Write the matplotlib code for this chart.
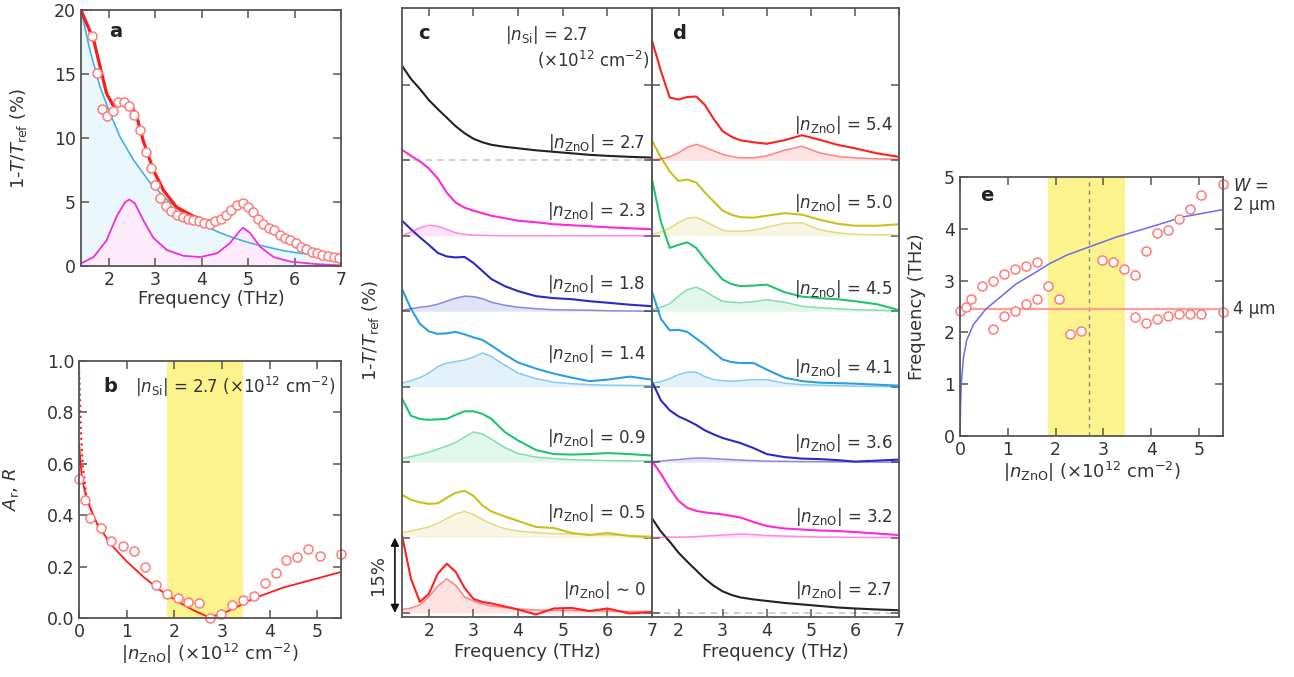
import matplotlib.pyplot as plt

plt.rcParams['font.family'] = ['DejaVu Sans']
plt.rcParams['mathtext.fontset'] = 'dejavusans'
plt.rcParams['font.size'] = 12
plt.rcParams['text.color'] = '#333333'
plt.rcParams['axes.edgecolor'] = '#555555'
plt.rcParams['axes.linewidth'] = 1.3
plt.rcParams['xtick.color'] = '#555555'
plt.rcParams['ytick.color'] = '#555555'
plt.rcParams['xtick.labelcolor'] = '#333333'
plt.rcParams['ytick.labelcolor'] = '#333333'
plt.rcParams['axes.labelcolor'] = '#333333'

# ---------------- panel a data ----------------
a_freq = [1.63, 1.75, 1.85, 1.97, 2.1, 2.2, 2.33, 2.44, 2.55, 2.67, 2.79, 2.9, 3.0, 3.1,
          3.23, 3.34, 3.46, 3.59, 3.7, 3.82, 3.94, 4.05, 4.17, 4.29, 4.41, 4.53, 4.64,
          4.76, 4.88, 4.99, 5.1, 5.22, 5.33, 5.45, 5.56, 5.68, 5.8, 5.91, 6.03, 6.14,
          6.25, 6.37, 6.48, 6.6, 6.72, 6.84, 6.95]
a_pct = [18.0, 15.1, 12.3, 11.7, 12.1, 12.8, 12.8, 12.5, 11.8, 10.6, 8.9, 7.7, 6.3, 5.3,
         4.7, 4.3, 4.0, 3.8, 3.7, 3.6, 3.5, 3.4, 3.3, 3.5, 3.7, 4.0, 4.4,
         4.8, 4.9, 4.6, 4.2, 3.7, 3.3, 3.0, 2.8, 2.4, 2.2, 2.0, 1.8, 1.5,
         1.3, 1.1, 1.0, 0.9, 0.8, 0.7, 0.6]
a_fit_freq = [1.4, 1.67, 1.81, 1.95, 2.1, 2.28, 2.46, 2.6, 2.74, 2.96, 3.18, 3.46, 3.82,
              4.11, 4.4, 4.69, 4.9, 5.12, 5.4, 5.76, 6.12, 6.48, 7.0]
a_fit_pct = [20.0, 17.7, 15.6, 13.5, 12.5, 13.0, 12.7, 11.7, 9.8, 7.5, 5.9, 4.6, 3.9,
             3.5, 3.7, 4.5, 4.8, 4.2, 3.1, 2.2, 1.5, 1.1, 0.8]
a_drude_freq = [1.4, 1.59, 1.81, 2.03, 2.24, 2.53, 2.89, 3.25, 3.61, 3.97, 4.33, 4.69,
                5.04, 5.4, 5.76, 6.12, 6.48, 7.0]
a_drude_pct = [20.0, 16.9, 14.0, 11.9, 10.1, 8.3, 6.5, 5.2, 4.1, 3.3, 2.7, 2.2,
               1.8, 1.5, 1.2, 1.0, 0.9, 0.8]
a_peak_freq = [1.4, 1.67, 1.95, 2.17, 2.35, 2.44, 2.56, 2.74, 2.96, 3.25, 3.61, 3.97,
               4.33, 4.61, 4.83, 4.89, 5.04, 5.26, 5.55, 5.91, 6.48, 7.0]
a_peak_pct = [0.2, 0.7, 2.0, 3.9, 5.0, 5.2, 4.9, 3.6, 2.2, 1.25, 0.8, 0.7,
              1.0, 1.8, 2.8, 3.0, 2.6, 1.5, 0.7, 0.35, 0.15, 0.05]

# ---------------- panel b data ----------------
b_n = [0.0, 0.12, 0.23, 0.46, 0.68, 0.92, 1.15, 1.38, 1.61, 1.84, 2.07, 2.29, 2.52,
       2.75, 2.98, 3.21, 3.45, 3.67, 3.9, 4.13, 4.35, 4.58, 4.81, 5.05, 5.5]
b_ar = [0.54, 0.46, 0.39, 0.35, 0.30, 0.28, 0.26, 0.20, 0.13, 0.095, 0.078, 0.062, 0.058,
        0.0, 0.014, 0.05, 0.071, 0.084, 0.138, 0.175, 0.225, 0.238, 0.268, 0.243, 0.248]
b_fit_n = [0.0, 0.056, 0.16, 0.37, 0.65, 1.0, 1.35, 1.7, 2.05, 2.4, 2.71, 2.96, 3.24,
           3.65, 4.28, 4.98, 5.5]
b_fit_r = [0.68, 0.55, 0.46, 0.37, 0.29, 0.22, 0.16, 0.108, 0.066, 0.03, 0.004, 0.013,
           0.036, 0.075, 0.118, 0.153, 0.179]
b_dot_n = [0.0, 0.02, 0.04, 0.08, 0.15, 0.27, 0.44]
b_dot_r = [0.98, 0.85, 0.72, 0.59, 0.48, 0.41, 0.34]
band_lo, band_hi = 1.84, 3.45
n_si = 2.7

# ---------------- panels c / d data (percent, on a common frequency grid) ----------------
cd_freq = [1.4, 1.6, 1.8, 2.0, 2.2, 2.4, 2.6, 2.8, 3.0, 3.2, 3.4, 3.7, 4.0, 4.4, 4.8,
           5.2, 5.6, 6.0, 6.5, 7.0]

c_meas_00 = [15.4, 6.8, 2.2, 3.8, 7.8, 9.8, 8.2, 5.0, 2.8, 2.2, 1.9, 1.3, 0.7, -0.3, 0.9,
             1.0, 0.4, 0.9, -0.1, 0.2]
c_peak_00 = [0.7, 1.0, 1.6, 3.2, 5.3, 6.8, 5.5, 3.2, 2.4, 1.8, 1.4, 1.1, 0.8, 0.6, 0.5,
             0.5, 0.4, 0.4, 0.3, 0.3]
c_meas_05 = [8.5, 7.5, 7.0, 6.7, 6.8, 7.9, 8.9, 9.3, 8.3, 6.4, 5.2, 4.2, 3.3, 2.1, 1.9,
             0.9, 0.5, 0.9, 0.3, 0.0]
c_peak_05 = [1.0, 1.3, 1.7, 2.1, 2.8, 3.8, 4.7, 5.2, 4.6, 3.6, 2.7, 1.8, 1.3, 1.0, 0.8,
             0.7, 0.6, 0.5, 0.4, 0.3]
c_meas_09 = [12.6, 9.2, 8.6, 8.4, 8.5, 8.6, 9.4, 10.1, 10.1, 9.6, 8.6, 6.0, 4.3, 2.4, 1.6,
             1.5, 1.6, 1.8, 1.6, 1.3]
c_peak_09 = [0.7, 1.1, 1.5, 2.0, 2.6, 3.2, 3.9, 5.0, 6.0, 5.6, 4.6, 2.9, 1.7, 1.0, 0.7,
             0.5, 0.4, 0.3, 0.25, 0.2]
c_meas_14 = [19.4, 15.5, 12.5, 11.0, 10.5, 10.6, 10.9, 10.4, 9.8, 9.3, 8.2, 6.4, 4.8, 3.6,
             2.6, 1.8, 1.1, 1.4, 2.0, 1.4]
c_peak_14 = [0.7, 1.2, 1.8, 2.7, 4.0, 4.7, 5.0, 5.3, 5.9, 6.7, 6.0, 4.3, 2.7, 1.6, 0.9,
             0.6, 0.4, 0.3, 0.25, 0.2]
c_meas_18 = [18.0, 16.3, 14.7, 13.2, 11.6, 10.9, 10.7, 10.8, 9.6, 8.0, 6.4, 5.0, 4.0, 3.0,
             2.6, 2.4, 2.0, 1.7, 1.3, 1.0]
c_peak_18 = [0.2, 0.5, 0.8, 1.0, 1.4, 2.0, 2.6, 3.0, 2.9, 2.5, 1.8, 1.2, 0.8, 0.5, 0.3,
             0.25, 0.2, 0.1, 0.05, 0.0]
c_meas_23 = [17.1, 15.9, 14.8, 13.4, 11.4, 8.6, 6.6, 5.6, 5.0, 4.5, 4.0, 3.5, 3.0, 2.7,
             2.3, 2.1, 1.9, 1.7, 1.5, 1.3]
c_peak_23 = [0.0, 0.8, 1.6, 2.1, 1.9, 1.3, 0.6, 0.3, 0.15, 0.1, 0.05, 0.0, 0.0, 0.0, 0.0,
             0.0, 0.0, 0.0, 0.0, 0.0]
meas_27 = [18.8, 16.2, 14.2, 12.0, 10.2, 8.5, 6.8, 5.4, 4.3, 3.6, 3.1, 2.7, 2.4, 2.0, 1.7,
           1.4, 1.1, 0.9, 0.7, 0.55]

d_meas_32 = [15.2, 12.7, 9.8, 7.3, 5.9, 5.3, 5.0, 4.8, 4.6, 4.3, 4.0, 3.1, 2.3, 1.8, 1.6,
             1.4, 1.3, 1.1, 0.8, 0.5]
d_peak_32 = [0.0, 0.05, 0.1, 0.1, 0.1, 0.2, 0.3, 0.4, 0.5, 0.6, 0.7, 0.6, 0.4, 0.3, 0.2,
             0.1, 0.1, 0.05, 0.0, 0.0]
d_meas_36 = [16.0, 12.3, 10.3, 9.1, 8.3, 7.4, 6.3, 5.5, 4.8, 4.3, 3.8, 2.8, 1.6, 1.0, 0.7,
             0.6, 0.4, 0.1, 0.3, 0.5]
d_peak_36 = [0.1, 0.2, 0.4, 0.5, 0.7, 0.8, 0.8, 0.7, 0.6, 0.5, 0.4, 0.3, 0.2, 0.15, 0.1,
             0.1, 0.05, 0.05, 0.0, 0.0]
d_meas_41 = [18.9, 13.5, 11.2, 11.3, 10.9, 9.6, 8.3, 6.8, 5.4, 4.9, 4.7, 4.7, 3.4, 1.8,
             1.1, 0.8, 0.7, 0.6, 0.4, 0.2]
d_peak_41 = [0.7, 1.0, 1.6, 2.4, 2.9, 2.9, 2.0, 1.4, 1.2, 1.1, 1.2, 1.4, 1.4, 0.7, 0.4,
             0.3, 0.2, 0.1, 0.05, 0.0]
d_meas_45 = [26.2, 17.8, 12.6, 13.2, 13.7, 12.6, 10.3, 8.3, 6.3, 5.4, 5.0, 5.1, 5.3, 3.8,
             2.9, 2.6, 2.4, 2.0, 1.4, 0.2]
d_peak_45 = [0.3, 0.8, 1.5, 3.0, 4.3, 4.8, 4.0, 2.9, 2.0, 1.8, 1.7, 1.9, 2.3, 1.8, 1.0,
             0.7, 0.5, 0.3, 0.2, 0.1]
d_meas_50 = [18.9, 15.6, 12.8, 10.9, 11.2, 10.6, 8.6, 6.8, 5.0, 4.2, 3.7, 3.6, 4.0, 4.5,
             4.2, 3.2, 2.4, 2.0, 2.0, 2.3]
d_peak_50 = [0.3, 0.8, 1.5, 2.6, 3.5, 3.7, 2.9, 2.0, 1.1, 0.9, 0.9, 1.1, 1.7, 2.5, 2.6,
             1.2, 0.6, 0.3, 0.2, 0.1]
d_meas_54 = [23.8, 17.8, 12.5, 12.1, 12.6, 12.7, 11.0, 8.2, 5.8, 4.7, 4.0, 3.6, 3.3, 4.0,
             5.0, 4.1, 3.1, 2.4, 1.4, 0.7]
d_peak_54 = [0.1, 0.3, 0.7, 1.5, 2.6, 3.2, 2.6, 1.9, 1.2, 0.8, 0.5, 0.5, 0.9, 2.0, 2.8,
             1.5, 0.8, 0.5, 0.3, 0.2]

c_labels = ['\u223c 0', '= 0.5', '= 0.9', '= 1.4', '= 1.8', '= 2.3', '= 2.7']
d_labels = ['= 2.7', '= 3.2', '= 3.6', '= 4.1', '= 4.5', '= 5.0', '= 5.4']

# ---------------- panel e data ----------------
e_n_up = [0.0, 0.12, 0.23, 0.47, 0.7, 0.93, 1.16, 1.38, 1.61, 1.84, 2.07, 2.3, 2.53,
          2.98, 3.21, 3.44, 3.67, 3.9, 4.13, 4.36, 4.59, 4.82, 5.05, 5.5]
e_f_up = [2.41, 2.49, 2.64, 2.89, 3.0, 3.12, 3.23, 3.29, 3.35, 2.89, 2.64, 1.96, 2.03,
          3.39, 3.35, 3.23, 3.11, 3.57, 3.92, 3.97, 4.18, 4.39, 4.65, 4.86]
e_n_lo = [0.7, 0.93, 1.16, 1.38, 1.61, 3.67, 3.9, 4.13, 4.36, 4.59, 4.82, 5.05, 5.5]
e_f_lo = [2.07, 2.31, 2.41, 2.54, 2.64, 2.30, 2.18, 2.25, 2.31, 2.36, 2.36, 2.36, 2.39]
e_2um_n = [0.0, 0.01, 0.025, 0.07, 0.14, 0.28, 0.54, 0.84, 1.18, 1.53, 1.88, 2.23,
           2.7, 3.27, 3.97, 4.67, 5.5]
e_2um_f = [0.0, 0.55, 1.0, 1.5, 1.85, 2.15, 2.45, 2.68, 2.94, 3.13, 3.33, 3.49,
           3.65, 3.84, 4.03, 4.23, 4.37]
e_4um_f = 2.45

# ---------------- styles ----------------
RED = '#ff1a1a'
CIRC = '#ff7b7b'
YELLOW = '#fcf38c'
colors = {'red': '#ff2020', 'olive': '#c9c020', 'green': '#22c46e', 'lblue': '#2d9fe0',
          'blue': '#2a2ac8', 'mag': '#ff2ad6', 'black': '#222222'}
STEP = 15
LAB = 13

fig = plt.figure(figsize=(12.94, 6.77), dpi=100)
ax_a = fig.add_axes([0.0626, 0.607, 0.2009, 0.378])
ax_b = fig.add_axes([0.0611, 0.0872, 0.2025, 0.3796])
ax_c = fig.add_axes([0.3107, 0.0886, 0.1932, 0.8996])
ax_d = fig.add_axes([0.5039, 0.0886, 0.1909, 0.8996])
ax_e = fig.add_axes([0.7419, 0.356, 0.2032, 0.3826])

for ax in (ax_a, ax_b, ax_c, ax_d, ax_e):
    ax.tick_params(direction='in', top=True, right=True, length=6, width=1.1, labelsize=12.5)

znolab = r'|$n_{\rm ZnO}$| (×10$^{12}$ cm$^{-2}$)'

# ---- a
ax_a.fill_between(a_drude_freq, a_drude_pct, 0, color='#eaf8fd', lw=0)
ax_a.fill_between(a_peak_freq, a_peak_pct, 0, color='#fdebfb', lw=0)
ax_a.plot(a_drude_freq, a_drude_pct, color='#3fb3e6', lw=1.2)
ax_a.plot(a_peak_freq, a_peak_pct, color='#f02ee0', lw=1.3)
ax_a.plot(a_fit_freq, a_fit_pct, color=RED, lw=2.3)
ax_a.plot(a_freq, a_pct, 'o', mfc='white', mec=CIRC, ms=6.5, mew=1.1)
ax_a.set_xlim(1.4, 7)
ax_a.set_ylim(0, 20)
ax_a.set_xticks([2, 3, 4, 5, 6, 7])
ax_a.set_yticks([0, 5, 10, 15, 20])
ax_a.set_xlabel('Frequency (THz)', fontsize=LAB, labelpad=1)
ax_a.set_ylabel(r'1-$T$/$T_{\rm ref}$ (%)', fontsize=LAB)
ax_a.yaxis.set_label_coords(-0.2, 0.5)
ax_a.text(2.0, 18.3, 'a', fontsize=14, fontweight='bold', va='center', color='#222222')

# ---- b
ax_b.axvspan(band_lo, band_hi, color=YELLOW, lw=0, zorder=0)
ax_b.plot(b_dot_n, b_dot_r, ':', color=RED, lw=1.5)
ax_b.plot(b_fit_n, b_fit_r, color=RED, lw=1.3)
ax_b.plot(b_n, b_ar, 'o', mfc='white', mec=CIRC, ms=6.5, mew=1.1, clip_on=False)
ax_b.set_xlim(0, 5.5)
ax_b.set_ylim(0, 1.0)
ax_b.set_xticks([0, 1, 2, 3, 4, 5])
ax_b.set_yticks([0.0, 0.2, 0.4, 0.6, 0.8, 1.0])
ax_b.set_xlabel(znolab, fontsize=LAB, labelpad=1)
ax_b.set_ylabel(r'$A_{\rm r}$, $R$', fontsize=LAB)
ax_b.yaxis.set_label_coords(-0.22, 0.5)
ax_b.text(0.5, 0.9, 'b', fontsize=14, fontweight='bold', va='center', color='#222222')
ax_b.text(1.18, 0.9, r'|$n_{\rm Si}$| = ' + f'{n_si}' + r' (×10$^{12}$ cm$^{-2}$)',
          fontsize=12, va='center')

# ---- c / d stacks
c_sets = [('red', c_meas_00, c_peak_00), ('olive', c_meas_05, c_peak_05),
          ('green', c_meas_09, c_peak_09), ('lblue', c_meas_14, c_peak_14),
          ('blue', c_meas_18, c_peak_18), ('mag', c_meas_23, c_peak_23),
          ('black', meas_27, None)]
d_sets = [('black', meas_27, None), ('mag', d_meas_32, d_peak_32),
          ('blue', d_meas_36, d_peak_36), ('lblue', d_meas_41, d_peak_41),
          ('green', d_meas_45, d_peak_45), ('olive', d_meas_50, d_peak_50),
          ('red', d_meas_54, d_peak_54)]
c_lab_dy = [4.6, 4.8, 4.8, 6.4, 5.4, 5.0, 3.4]
d_lab_dy = [4.6, 4.0, 3.8, 3.8, 4.4, 6.6, 7.0]

for ax, sets, labels, dys in ((ax_c, c_sets, c_labels, c_lab_dy),
                              (ax_d, d_sets, d_labels, d_lab_dy)):
    for i, (cname, meas, peak) in enumerate(sets):
        base = i * STEP
        col = colors[cname]
        if peak is None:
            ax.axhline(base, color='#c8c8c8', lw=1.2, ls=(0, (4, 3)), zorder=1)
        else:
            yp = [base + v for v in peak]
            ax.fill_between(cd_freq, yp, base, color=col, alpha=0.13, lw=0)
            ax.plot(cd_freq, yp, color=col, alpha=0.55, lw=1.1)
        ax.plot(cd_freq, [base + v for v in meas], color=col, lw=1.5)
        ax.text(6.85, base + dys[i], r'|$n_{\rm ZnO}$| ' + labels[i], ha='right',
                va='center', fontsize=12)
    ax.set_xlim(1.4, 7)
    ax.set_ylim(-0.8, 120.3)
    ax.set_xticks([2, 3, 4, 5, 6, 7])
    ax.set_yticks([k * STEP for k in range(8)])
    ax.set_yticklabels([])
    ax.set_xlabel('Frequency (THz)', fontsize=LAB, labelpad=2)

ax_c.set_ylabel(r'1-$T$/$T_{\rm ref}$ (%)', fontsize=LAB)
ax_c.yaxis.set_label_coords(-0.085, 0.47)
ax_c.text(1.76, 115.3, 'c', fontsize=14, fontweight='bold', va='center', color='#222222')
ax_d.text(1.85, 115.3, 'd', fontsize=14, fontweight='bold', va='center', color='#222222')
ax_c.text(3.71, 114.9, r'|$n_{\rm Si}$| = ' + f'{n_si}', fontsize=12, va='center')
ax_c.text(6.95, 110.0, r'(×10$^{12}$ cm$^{-2}$)', fontsize=12, va='center', ha='right')
ax_c.annotate('', xy=(1.24, 0), xytext=(1.24, STEP), xycoords='data',
              arrowprops=dict(arrowstyle='<|-|>', color='#111111', lw=1.2,
                              mutation_scale=12, shrinkA=0, shrinkB=0),
              annotation_clip=False)
ax_c.text(0.86, STEP / 2, '15%', rotation=90, ha='center', va='center', fontsize=LAB,
          clip_on=False)

# ---- e
ax_e.axvspan(band_lo, band_hi, color=YELLOW, lw=0, zorder=0)
ax_e.axvline(n_si, color='#888888', lw=1, ls=(0, (3, 3)))
ax_e.axhline(e_4um_f, color='#ff9c9c', lw=1.6)
ax_e.plot(e_2um_n, e_2um_f, color='#6b6bf0', lw=1.1)
ax_e.plot(e_n_up, e_f_up, 'o', mfc='white', mec=CIRC, ms=6.5, mew=1.1, clip_on=False)
ax_e.plot(e_n_lo, e_f_lo, 'o', mfc='white', mec=CIRC, ms=6.5, mew=1.1, clip_on=False)
ax_e.set_xlim(0, 5.5)
ax_e.set_ylim(0, 5)
ax_e.set_xticks([0, 1, 2, 3, 4, 5])
ax_e.set_yticks([0, 1, 2, 3, 4, 5])
ax_e.set_xlabel(znolab, fontsize=LAB, labelpad=1)
ax_e.set_ylabel('Frequency (THz)', fontsize=LAB)
ax_e.yaxis.set_label_coords(-0.13, 0.5)
ax_e.text(0.42, 4.65, 'e', fontsize=14, fontweight='bold', va='center', color='#222222')
ax_e.text(5.71, 4.83, r'$W$ =', fontsize=12, va='center', clip_on=False)
ax_e.text(5.71, 4.46, '2 μm', fontsize=12, va='center', clip_on=False)
ax_e.text(5.71, 2.45, '4 μm', fontsize=12, va='center', clip_on=False)

fig.savefig('out.png', dpi=100)
